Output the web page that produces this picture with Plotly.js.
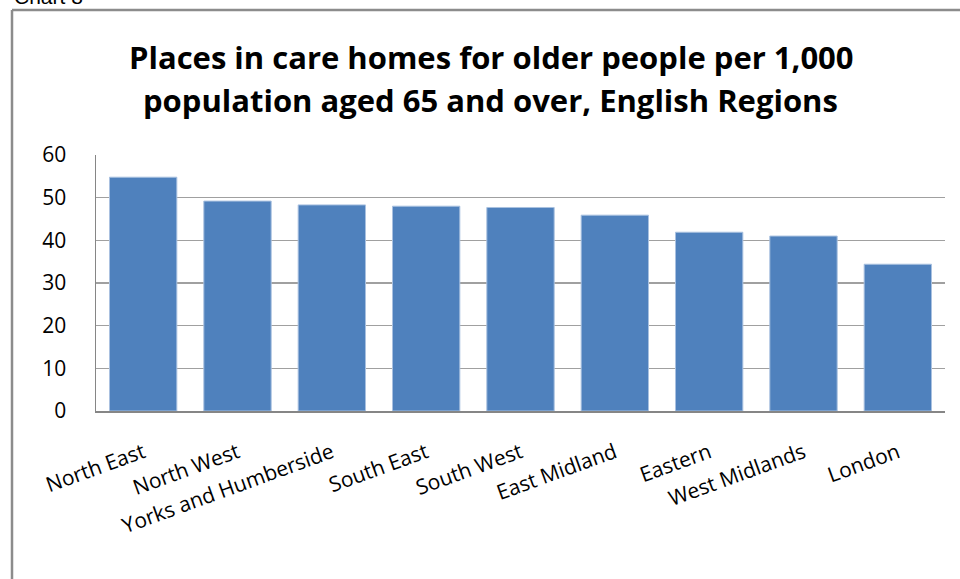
<!DOCTYPE html>
<html>
<head>
<meta charset="utf-8">
<script src="https://cdn.plot.ly/plotly-3.0.1.min.js"></script>
<style>
html,body{margin:0;padding:0;background:#fff;}
#chart{width:960px;height:579px;}
</style>
</head>
<body>
<div id="chart"></div>
<script>
var regions = ["North East","North West","Yorks and Humberside","South East","South West","East Midland","Eastern","West Midlands","London"];
var places = [54.8, 49.2, 48.3, 48.0, 47.7, 45.9, 41.9, 41.0, 34.4];
var yTicks = [0, 10, 20, 30, 40, 50, 60];
var titleLines = ["Places in care homes for older people per 1,000", "population aged 65 and over, English Regions"];

var L = 96, R = 15, T = 155, B = 168, W = 960, H = 579;
var pw = W - L - R, ph = H - T - B;
function px(x){ return (x - L) / pw; }
function py(y){ return (H - B - y) / ph; }

var FONT = '"Open Sans", Lato, sans-serif';

var trace = {
  type: 'bar',
  x: regions,
  y: places,
  marker: {color: '#4F81BD', line: {color: '#A9C1E0', width: 1}},
  hoverinfo: 'x+y'
};

var layout = {
  width: W, height: H,
  margin: {l: L, r: R, t: T, b: B},
  paper_bgcolor: '#fff',
  plot_bgcolor: '#fff',
  bargap: 0.286,
  showlegend: false,
  font: {family: FONT, color: '#000'},
  xaxis: {
    type: 'category',
    tickangle: -20,
    tickfont: {family: FONT, size: 21, color: '#000'},
    showline: true, linecolor: '#868686', linewidth: 1.5,
    ticks: 'outside', ticklen: 0, tickcolor: '#fff',
    ticklabelstandoff: 20,
    showgrid: false
  },
  yaxis: {
    range: [0, 60],
    tickvals: yTicks,
    ticktext: yTicks.map(String),
    tickfont: {family: FONT, size: 21, color: '#000'},
    showline: true, linecolor: '#868686', linewidth: 1.5,
    gridcolor: '#A0A0A0', gridwidth: 1.5,
    zeroline: false,
    ticks: 'outside', ticklen: 0, tickcolor: '#fff',
    ticklabelstandoff: 24,
    automargin: false
  },
  shapes: [
    {type: 'line', xref: 'paper', yref: 'paper', x0: px(12), x1: px(960), y0: py(10), y1: py(10), line: {color: '#8C8C8C', width: 2.5}},
    {type: 'line', xref: 'paper', yref: 'paper', x0: px(12), x1: px(12), y0: py(10), y1: py(579), line: {color: '#8C8C8C', width: 2.5}}
  ],
  annotations: [
    {xref: 'paper', yref: 'paper', x: px(12), y: py(10), xanchor: 'left', yanchor: 'bottom', showarrow: false,
     text: 'Chart 8', font: {family: 'Liberation Sans, Arial, sans-serif', size: 21, color: '#000'}},
    {xref: 'paper', yref: 'paper', x: px(491), y: py(57), xanchor: 'center', yanchor: 'middle', showarrow: false,
     text: '<b>' + titleLines[0] + '</b>', font: {family: FONT, size: 31, color: '#000'}},
    {xref: 'paper', yref: 'paper', x: px(490), y: py(100), xanchor: 'center', yanchor: 'middle', showarrow: false,
     text: '<b>' + titleLines[1] + '</b>', font: {family: FONT, size: 31, color: '#000'}}
  ]
};

Plotly.newPlot('chart', [trace], layout, {displayModeBar: false, staticPlot: true});
</script>
</body>
</html>
